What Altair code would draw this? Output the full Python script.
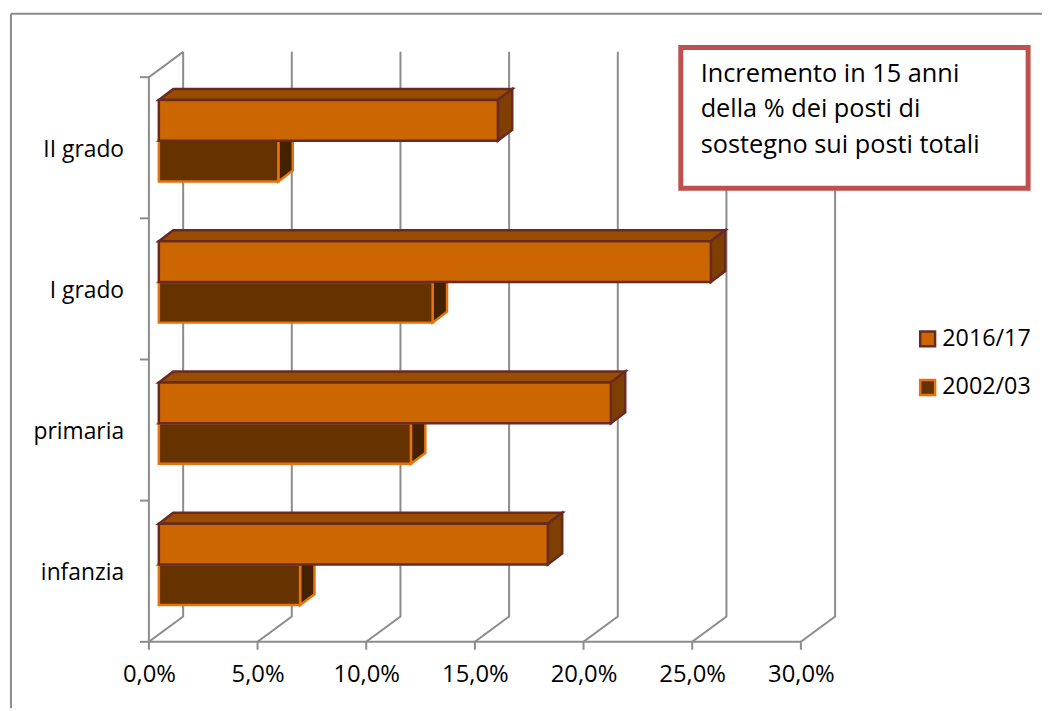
import altair as alt
import pandas as pd

categories = ["infanzia", "primaria", "I grado", "II grado"]
series = ["2016/17", "2002/03"]
values_2016 = [17.9, 20.8, 25.4, 15.6]
values_2002 = [6.5, 11.6, 12.6, 5.5]
x_ticks = [0, 5, 10, 15, 20, 25, 30]
note_lines = ["Incremento in 15 anni", "della % dei posti di", "sostegno sui posti totali"]

FONT = "Open Sans"
GRID = "#8c8c8c"
FRONT = {"2016/17": "#cc6600", "2002/03": "#663300"}
EDGE = {"2016/17": "#692a22", "2002/03": "#e4730f"}
SIDE = {"2016/17": "#7f3f00", "2002/03": "#442200"}
TOP = {"2016/17": "#9a4d00", "2002/03": "#7f3f00"}

W, H = 1042, 703
PX_X = 21.9      # pixels per percentage point
PX_Y = 142.33    # pixels per category
x_dom = [-142 / PX_X, (W - 142) / PX_X]
y_dom = [-(703 - 558) / PX_Y, 558 / PX_Y]
xs = alt.Scale(domain=x_dom, range=[0, W], nice=False, zero=False)
ys = alt.Scale(domain=y_dom, range=[H, 0], nice=False, zero=False)

# 3-D construction constants, in scale units
BAR_SHIFT = 10 / PX_X
BAR_DX = 14.5 / PX_X
BAR_DY = 11 / PX_Y
BAR_H = 41 / PX_Y
WALL_DX = 34.5 / PX_X
WALL_DY = 25.5 / PX_Y
FLOOR = -0.548
FRONT_TOP = 3.45
BACK_FLOOR = FLOOR + WALL_DY
BACK_TOP = FRONT_TOP + WALL_DY
TICK_LEN = 9 / PX_X
TICK_DOWN = 8 / PX_Y


def X(f="x", **k):
    return alt.X(f"{f}:Q", scale=xs, axis=None, **k)


def Y(f="y", **k):
    return alt.Y(f"{f}:Q", scale=ys, axis=None, **k)


# walls -----------------------------------------------------------------
wall_rows = []
for t in x_ticks:
    wall_rows += [
        {"id": t, "o": 0, "x": t, "y": FLOOR - TICK_DOWN},
        {"id": t, "o": 1, "x": t, "y": FLOOR},
        {"id": t, "o": 2, "x": t + WALL_DX, "y": BACK_FLOOR},
        {"id": t, "o": 3, "x": t + WALL_DX, "y": BACK_TOP},
    ]
wall_rows += [
    {"id": -1, "o": 0, "x": 0, "y": FLOOR},
    {"id": -1, "o": 1, "x": 0, "y": FRONT_TOP},
    {"id": -1, "o": 2, "x": WALL_DX, "y": BACK_TOP},
    {"id": -2, "o": 0, "x": 0, "y": FLOOR},
    {"id": -2, "o": 1, "x": 30, "y": FLOOR},
]
for k in range(len(categories) + 1):
    yy = FLOOR + k * (FRONT_TOP - FLOOR) / len(categories)
    wall_rows += [
        {"id": -10 - k, "o": 0, "x": -TICK_LEN, "y": yy},
        {"id": -10 - k, "o": 1, "x": 0, "y": yy},
    ]
walls = (
    alt.Chart(pd.DataFrame(wall_rows))
    .mark_line(color=GRID, strokeWidth=2, interpolate="linear")
    .encode(
        x=alt.X(
            "x:Q",
            scale=xs,
            title=None,
            axis=alt.Axis(
                values=x_ticks,
                grid=False,
                domain=False,
                ticks=False,
                offset=-(H - 636),
                labelFont=FONT,
                labelFontSize=24,
                labelColor="#000000",
                labelPadding=21,
                labelExpr="replace(format(datum.value, '.1f'), '.', ',') + '%'",
                labelFlush=False,
                labelOverlap=False,
            ),
        ),
        y=Y(),
        detail="id:N",
        order="o:Q",
    )
)

# bars ------------------------------------------------------------------
rows = []
for i, c in enumerate(categories):
    rows.append({"cat": c, "i": i, "series": series[0], "value": values_2016[i], "top": i + BAR_H, "bot": i})
    rows.append({"cat": c, "i": i, "series": series[1], "value": values_2002[i], "top": i, "bot": i - BAR_H})


def bar_layers(name):
    sub = [r for r in rows if r["series"] == name]
    front, side, top = [], [], []
    for r in sub:
        end = BAR_SHIFT + r["value"]
        front.append({"series": name, "x": BAR_SHIFT, "x2": end, "y": r["bot"], "y2": r["top"]})
        side += [
            {"id": r["cat"], "x": end, "y": r["bot"], "y2": r["top"]},
            {"id": r["cat"], "x": end + BAR_DX, "y": r["bot"] + BAR_DY, "y2": r["top"] + BAR_DY},
        ]
        top += [
            {"id": r["cat"], "y": r["top"], "x": BAR_SHIFT, "x2": end},
            {"id": r["cat"], "y": r["top"] + BAR_DY, "x": BAR_SHIFT + BAR_DX, "x2": end + BAR_DX},
        ]
    sw = 2.5
    side_m = (
        alt.Chart(pd.DataFrame(side))
        .mark_area(fill=SIDE[name], stroke=EDGE[name], strokeWidth=sw, opacity=1)
        .encode(x=X(), y=Y(), y2=alt.Y2("y2:Q"), detail="id:N")
    )
    top_m = (
        alt.Chart(pd.DataFrame(top))
        .mark_area(orient="horizontal", fill=TOP[name], stroke=EDGE[name], strokeWidth=sw, opacity=1)
        .encode(y=Y(), x=X(), x2=alt.X2("x2:Q"), detail="id:N")
    )
    legend = alt.Legend(
        title=None,
        orient="none",
        legendX=915,
        legendY=319,
        symbolType="square",
        symbolSize=225,
        symbolStrokeWidth=2.5,
        labelFont=FONT,
        labelFontSize=23.5,
        labelColor="#000000",
        labelOffset=3,
        rowPadding=23,
    )
    front_m = (
        alt.Chart(pd.DataFrame(front))
        .mark_rect(strokeWidth=sw)
        .encode(
            x=X(),
            x2=alt.X2("x2:Q"),
            y=Y(),
            y2=alt.Y2("y2:Q"),
            color=alt.Color(
                "series:N",
                scale=alt.Scale(domain=series, range=[FRONT[s] for s in series]),
                legend=legend,
            ),
            stroke=alt.Stroke(
                "series:N",
                scale=alt.Scale(domain=series, range=[EDGE[s] for s in series]),
                legend=legend,
            ),
        )
    )
    return [top_m, side_m, front_m]


# labels ----------------------------------------------------------------
cat_df = pd.DataFrame({"cat": categories, "y": [i - 9 / PX_Y for i in range(4)], "x": [-25 / PX_X] * 4})
cat_labels = (
    alt.Chart(cat_df)
    .mark_text(align="right", baseline="middle", font=FONT, fontSize=23, color="#000000")
    .encode(x=X(), y=Y(), text="cat:N")
)

# frame and note --------------------------------------------------------
one = pd.DataFrame({"a": [0]})
border_left = alt.Chart(one).mark_rule(color=GRID, strokeWidth=2).encode(
    x=alt.value(3), y=alt.value(3), y2=alt.value(H)
)
border_top = alt.Chart(one).mark_rule(color=GRID, strokeWidth=2).encode(
    x=alt.value(3), x2=alt.value(W), y=alt.value(3)
)
box = alt.Chart(one).mark_rect(fill="#ffffff", stroke="#c0504d", strokeWidth=5).encode(
    x=alt.value(678), x2=alt.value(1028), y=alt.value(37), y2=alt.value(179)
)
note = alt.Chart(one).mark_text(
    text=note_lines, align="left", baseline="top", font=FONT, fontSize=25.5, lineHeight=35.5, color="#000000"
).encode(x=alt.value(698), y=alt.value(52))

chart = alt.layer(
    border_left,
    border_top,
    walls,
    *bar_layers("2002/03"),
    *bar_layers("2016/17"),
    cat_labels,
    box,
    note,
).resolve_scale(color="shared", stroke="shared").resolve_axis(x="independent").properties(
    width=W,
    height=H,
    padding=0,
    autosize=alt.AutoSizeParams(type="none"),
).configure_view(stroke=None)

chart.save("out.html", embed_options={"renderer": "svg", "actions": False})
